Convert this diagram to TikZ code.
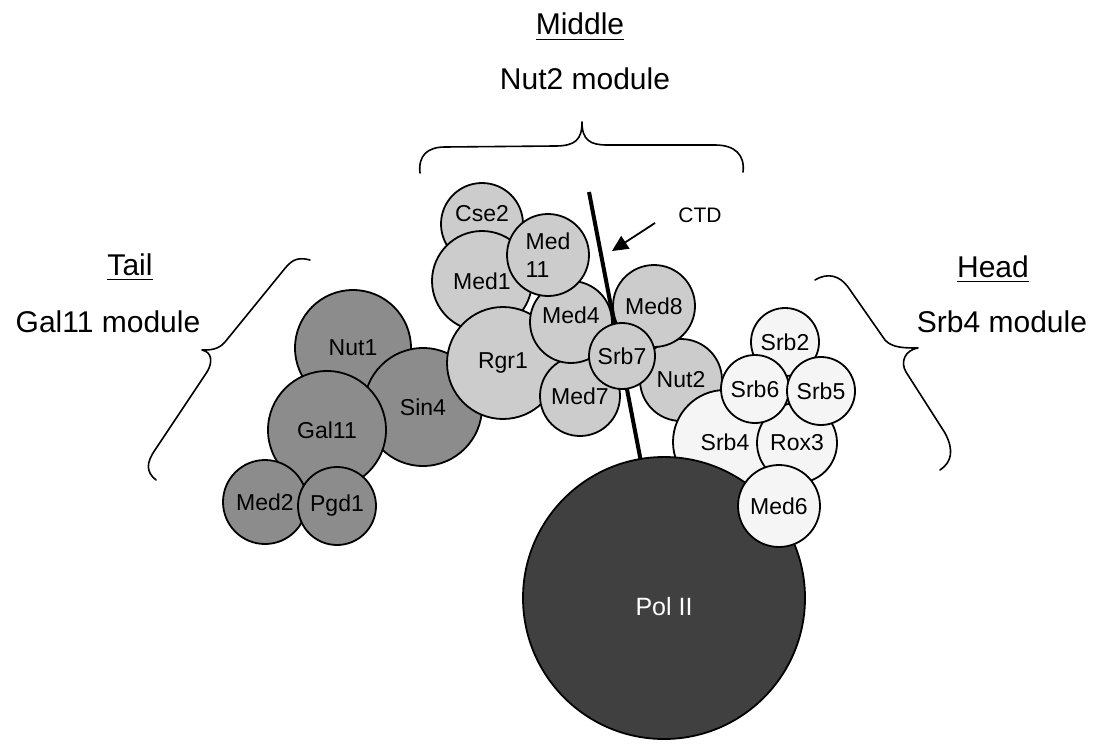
\documentclass[tikz,border=0pt]{standalone}
\usepackage{fontspec}
\setmainfont{Liberation Sans}
\usetikzlibrary{arrows.meta}
\definecolor{tailgray}{gray}{0.55}
\definecolor{midgray}{gray}{0.8}
\definecolor{headgray}{gray}{0.96}
\definecolor{polgray}{gray}{0.25}
\newcommand{\modtitle}[1]{\underline{#1\vrule width 0pt depth 3pt}}
\tikzset{
	sub/.style={circle, draw=black, line width=1.8pt, inner sep=0pt, font=\fontsize{23}{28}\selectfont},
	tailsub/.style={sub, fill=tailgray},
	midsub/.style={sub, fill=midgray},
	headsub/.style={sub, fill=headgray},
	modname/.style={anchor=base, font=\fontsize{30}{34}\selectfont},
	brace/.style={line width=1.6pt, line cap=round, line join=round},
	ctdline/.style={line width=4pt},
	pointer/.style={line width=1.8pt, -{Triangle[length=16pt,width=15pt]}},
}
\begin{document}
\begin{tikzpicture}[x=1pt, y=-1pt]
	\useasboundingbox (0,0) rectangle (1102,749);
	% module names
	\node[modname] (middle) at (580,35) {\modtitle{Middle}};
	\node[modname] (nut2mod) at (585,90) {Nut2 module};
	\node[modname] (tail) at (130,275) {\modtitle{Tail}};
	\node[modname] (gal11mod) at (108,332) {Gal11 module};
	\node[modname] (head) at (993,277) {\modtitle{Head}};
	\node[modname] (srb4mod) at (1002,332) {Srb4 module};
	% braces
	\draw[brace] (420,173) .. controls (418,155) and (428,147) .. (445,147) -- (555,146) .. controls (575,146) and (582,140) .. (582,122) .. controls (582,140) and (590,145) .. (607,145) -- (715,145) .. controls (735,145) and (745,155) .. (743,172);
	\draw[brace] (310,260) .. controls (295,256) and (290,262) .. (282,272) -- (225,342) .. controls (218,350) and (210,350) .. (202,350) .. controls (212,352) and (213,362) .. (207,372) -- (155,450) .. controls (146,463) and (146,472) .. (156,480);
	\draw[brace] (815,280) .. controls (828,272) and (840,276) .. (848,287) -- (885,340) .. controls (892,348) and (905,348) .. (918,348) .. controls (905,350) and (900,362) .. (906,372) -- (945,433) .. controls (954,450) and (952,462) .. (940,470);
	% tail module
	\node[tailsub, minimum size=116] (nut1) at (353,348) {Nut1};
	\node[tailsub, minimum size=118] (sin4) at (423,407) {Sin4};
	\node[tailsub, minimum size=118] (gal11) at (327,430) {Gal11};
	\node[tailsub, minimum size=84] (med2) at (265,502) {Med2};
	\node[tailsub, minimum size=78] (pgd1) at (337,506) {Pgd1};
	% middle module
	\node[midsub, minimum size=82, label={[font=\fontsize{23}{28}\selectfont, yshift=10pt]center:Cse2}] (cse2) at (482,224) {};
	\node[midsub, minimum size=100] (med1) at (482,281) {Med1};
	\node[midsub, minimum size=112] (rgr1) at (503,363) {Rgr1};
	\node[midsub, minimum size=80] (med7) at (580,396) {Med7};
	\node[midsub, minimum size=82, label={[font=\fontsize{23}{28}\selectfont, yshift=7pt]center:Med4}] (med4) at (571,322) {};
	\node[midsub, minimum size=82, align=left] (med11) at (548,255) {Med\\11};
	\node[midsub, minimum size=82] (nut2) at (681,380) {Nut2};
	\node[midsub, minimum size=82] (med8) at (654,306) {Med8};
	% CTD
	\coordinate (ctdtop) at (589,192);
	\coordinate (ctdbot) at (641,462);
	\draw[ctdline] (ctdtop) -- (ctdbot);
	\node[midsub, minimum size=66] (srb7) at (622,356) {Srb7};
	\node[font=\fontsize{21}{24}\selectfont] (ctd) at (700,215) {CTD};
	\coordinate (ctdtail) at (655,223);
	\coordinate (ctdtip) at (612,251);
	\draw[pointer] (ctdtail) -- (ctdtip);
	% head module
	\node[headsub, minimum size=68] (srb2) at (785,342) {Srb2};
	\node[headsub, minimum size=104] (srb4) at (725,442) {Srb4};
	\node[headsub, minimum size=80] (rox3) at (797,443) {Rox3};
	\node[headsub, minimum size=68] (srb6) at (755,389) {Srb6};
	\node[headsub, minimum size=68] (srb5) at (821,391) {Srb5};
	% polymerase
	\node[sub, fill=polgray, minimum size=282, label={[text=white, font=\fontsize{25}{28}\selectfont, yshift=-9pt]center:Pol II}] (polii) at (664,598) {};
	\node[headsub, minimum size=82] (med6) at (779,506) {Med6};
\end{tikzpicture}
\end{document}
